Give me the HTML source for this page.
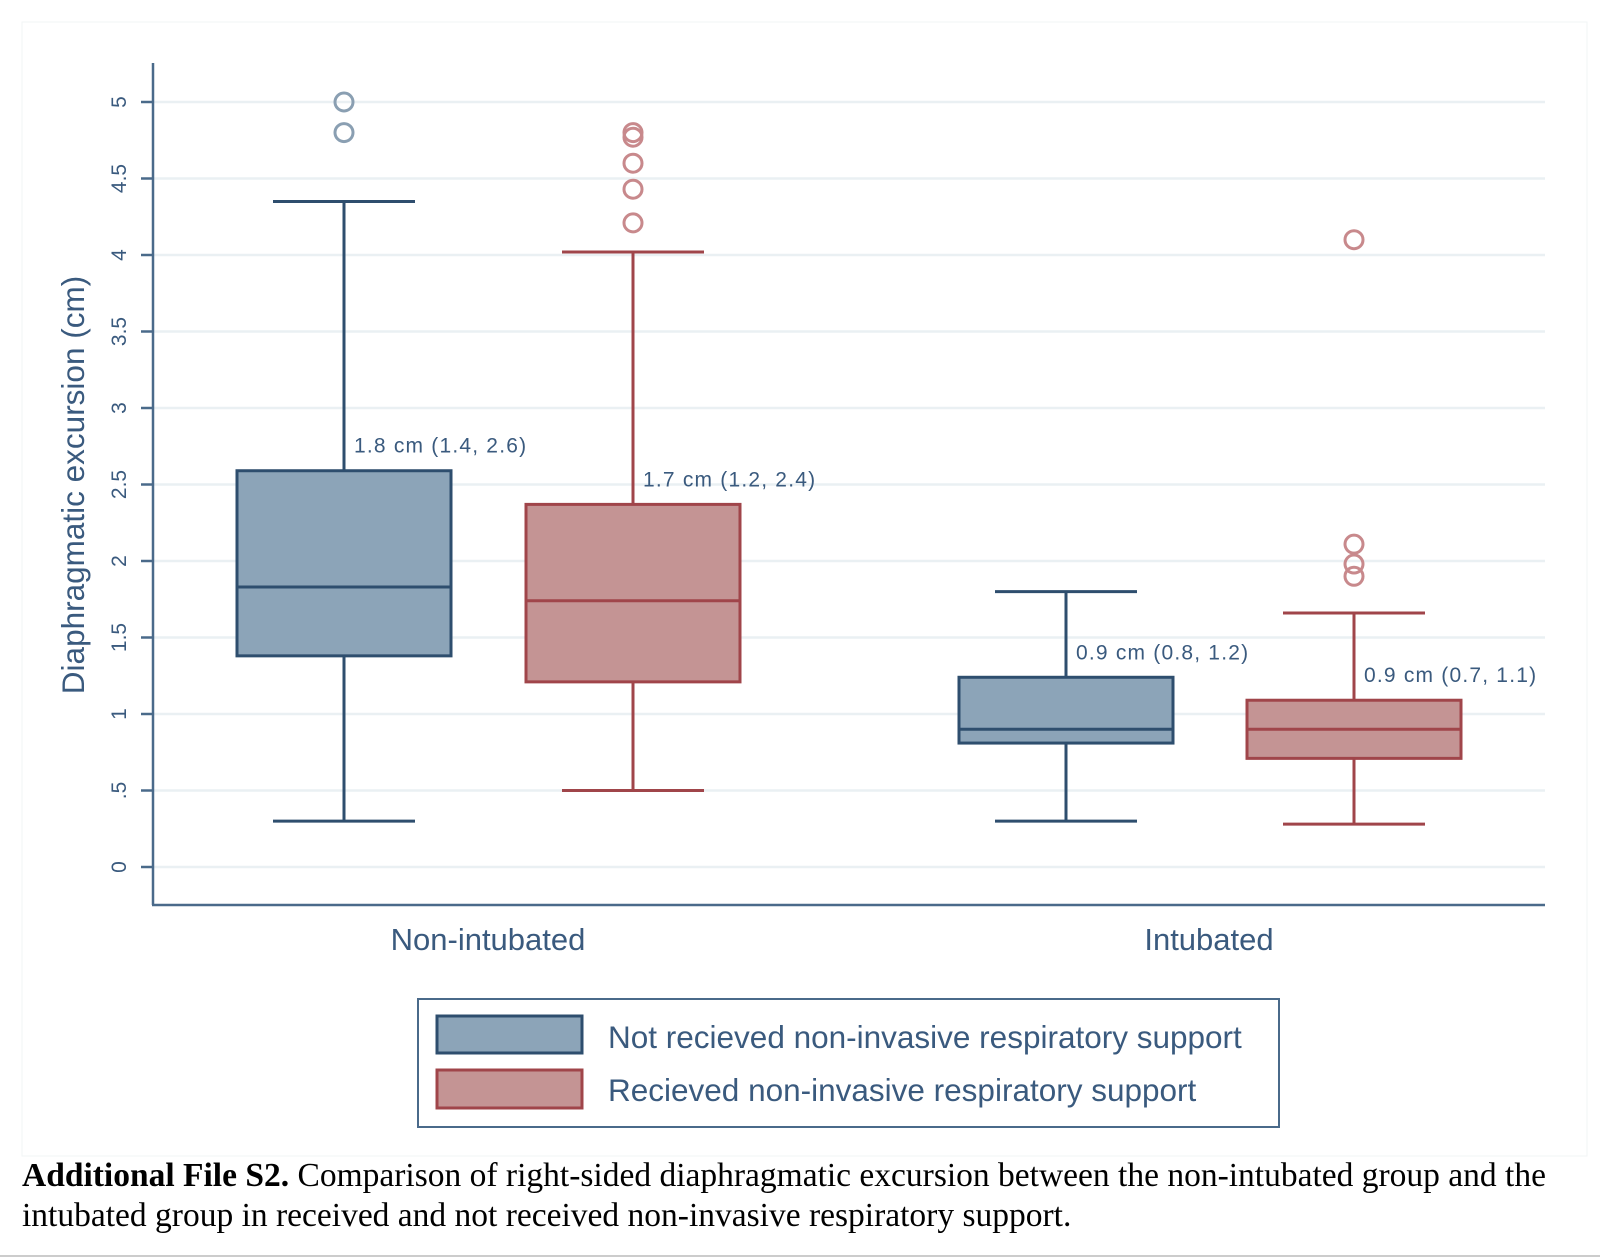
<!DOCTYPE html>
<html><head><meta charset="utf-8"><style>
body{margin:0;background:#fff;width:1600px;height:1257px;overflow:hidden;font-family:"Liberation Sans",sans-serif}
.cap{position:absolute;left:22px;top:1156px;width:1565px;font-family:"Liberation Serif",serif;font-size:33.5px;line-height:40px;color:#000;white-space:nowrap}
</style></head><body>
<svg width="1600" height="1257" style="position:absolute;left:0;top:0">
<rect x="22" y="22" width="1565" height="1134" fill="#fff" stroke="#f2f4f6"/>
<line x1="0" y1="1256" x2="1600" y2="1256" stroke="#ccc" stroke-width="2"/>
<g id="grid"></g><g id="boxes"></g>
<line x1="153" y1="63" x2="153" y2="905" stroke="#4a6a8a" stroke-width="2.5"/>
<line x1="152" y1="905" x2="1545" y2="905" stroke="#4a6a8a" stroke-width="2.5"/>
<text transform="translate(84,485) rotate(-90)" text-anchor="middle" font-size="31.5" fill="#3a5a7e">Diaphragmatic excursion (cm)</text>
<text x="488" y="950" text-anchor="middle" font-size="31" fill="#3a5a7e">Non-intubated</text>
<text x="1209" y="950" text-anchor="middle" font-size="31" fill="#3a5a7e">Intubated</text>
<g>
<rect x="418" y="999" width="861" height="128" fill="#fff" stroke="#4a6a8a" stroke-width="2"/>
<rect x="437" y="1016" width="145" height="37" fill="#8ca4b8" stroke="#2e4e6e" stroke-width="3"/>
<rect x="437" y="1070" width="145" height="38" fill="#c49494" stroke="#a0454a" stroke-width="3"/>
<text x="608" y="1048" font-size="31.5" fill="#3a5a7e">Not recieved non-invasive respiratory support</text>
<text x="608" y="1101" font-size="31.5" fill="#3a5a7e">Recieved non-invasive respiratory support</text>
</g>
</svg>
<div class="cap"><b>Additional File S2.</b> Comparison of right-sided diaphragmatic excursion between the non-intubated group and the<br>intubated group in received and not received non-invasive respiratory support.</div>
<script>
const ticks=[0,0.5,1,1.5,2,2.5,3,3.5,4,4.5,5];
const tickLabels=["0",".5","1","1.5","2","2.5","3","3.5","4","4.5","5"];
const groups=["NI-not","NI-recv","I-not","I-recv"];
const lowW=[0.3,0.5,0.3,0.28];
const q1=[1.38,1.21,0.81,0.71];
const med=[1.83,1.74,0.9,0.9];
const q3=[2.59,2.37,1.24,1.09];
const highW=[4.35,4.02,1.8,1.66];
const outliers=[[5.0,4.8],[4.8,4.77,4.6,4.43,4.21],[],[4.1,2.11,1.98,1.9]];
const annot=["1.8 cm (1.4, 2.6)","1.7 cm (1.2, 2.4)","0.9 cm (0.8, 1.2)","0.9 cm (0.7, 1.1)"];
const ns="http://www.w3.org/2000/svg";
const y=v=>867-153*v;
const xc=i=>[344,633,1066,1354][i];
function mk(t,a,p){const e=document.createElementNS(ns,t);for(const k in a)e.setAttribute(k,a[k]);p.appendChild(e);return e;}
const G=document.getElementById('grid'),B=document.getElementById('boxes');
ticks.forEach((t,i)=>{
 const l=mk('line',{x1:153,x2:1545,y1:y(t),y2:y(t),stroke:'#eaf0f3','stroke-width':2.5},G);
 
 
 mk('line',{x1:141,x2:153,y1:y(t),y2:y(t),stroke:'#4a6a8a','stroke-width':2.5},G);
 const tx=mk('text',{transform:`translate(126,${y(t)}) rotate(-90)`,'text-anchor':'middle','font-size':21,fill:'#3a5a7e'},G);
 tx.textContent=tickLabels[i];
 
 
});
groups.forEach((g,i)=>{
 const red=i%2==1, st=red?'#a0454a':'#2e4e6e', fi=red?'#c49494':'#8ca4b8', oc=red?'#c8898c':'#8a9fb2';
 const c=xc(i),hw=107,cw=71;
 const gg=mk('g',{},B);
 
 
 mk('line',{x1:c,x2:c,y1:y(lowW[i]),y2:y(highW[i]),stroke:st,'stroke-width':3},gg);
 mk('line',{x1:c-cw,x2:c+cw,y1:y(lowW[i]),y2:y(lowW[i]),stroke:st,'stroke-width':3},gg);
 mk('line',{x1:c-cw,x2:c+cw,y1:y(highW[i]),y2:y(highW[i]),stroke:st,'stroke-width':3},gg);
 mk('rect',{x:c-hw,y:y(q3[i]),width:2*hw,height:y(q1[i])-y(q3[i]),fill:fi,stroke:st,'stroke-width':3},gg);
 mk('line',{x1:c-hw,x2:c+hw,y1:y(med[i]),y2:y(med[i]),stroke:st,'stroke-width':3},gg);
 outliers[i].forEach(o=>{const p=mk('circle',{cx:c,cy:y(o),r:9,fill:'none',stroke:oc,'stroke-width':3},gg);
  
  });
 const t=mk('text',{x:c+10,y:y(q3[i])-18,'font-size':21,'letter-spacing':'1.2',fill:'#3a5a7e'},gg);
 t.textContent=annot[i];
 
 
});
</script>
</body></html>
